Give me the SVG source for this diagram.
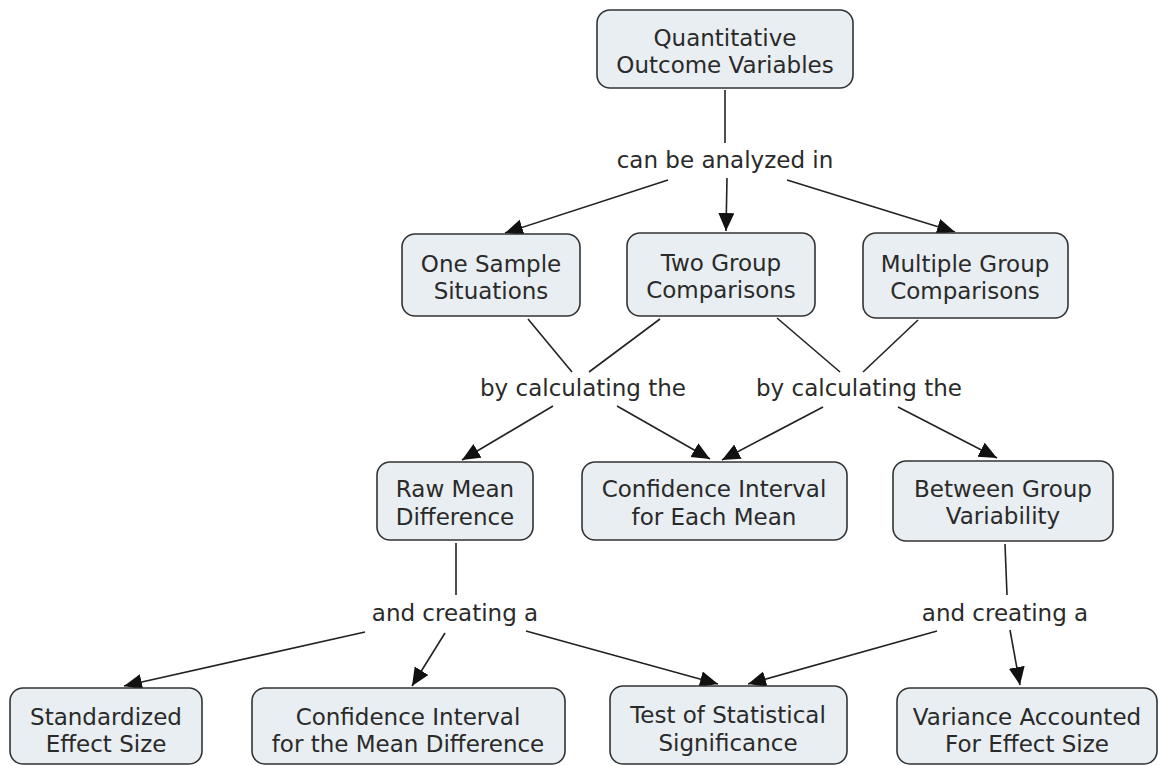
<svg xmlns="http://www.w3.org/2000/svg" width="1161" height="766" viewBox="0 0 1161 766">
<defs>
<marker id="ah" markerUnits="userSpaceOnUse" markerWidth="20" markerHeight="18" refX="18" refY="8" orient="auto">
<path d="M0,0 L18,8 L0,16 Z" fill="#111"/>
</marker>
<style>
.n rect{fill:#e8eef1;stroke:#333;stroke-width:1.6}
text{font-family:"DejaVu Sans",Verdana,sans-serif;font-size:23px;fill:#2a2a2a;text-anchor:middle}
.c line{stroke:#222;stroke-width:1.6}
.c .a{marker-end:url(#ah)}
</style>
</defs>
<rect width="1161" height="766" fill="#fff"/>
<g class="c" id="connectors">
<line x1="725" y1="90" x2="725" y2="143"/>
<line class="a" x1="727" y1="178" x2="726" y2="231"/>
<line class="a" x1="668" y1="180" x2="505" y2="233"/>
<line class="a" x1="787" y1="180" x2="955" y2="232"/>
<line x1="528" y1="319" x2="572" y2="372"/>
<line x1="660" y1="319" x2="589" y2="372"/>
<line class="a" x1="553" y1="406" x2="462" y2="460"/>
<line class="a" x1="617" y1="406" x2="710" y2="459"/>
<line x1="777" y1="318" x2="840" y2="372"/>
<line x1="918" y1="320" x2="863" y2="372"/>
<line class="a" x1="823" y1="407" x2="722" y2="460"/>
<line class="a" x1="898" y1="407" x2="997" y2="458"/>
<line x1="456" y1="543" x2="456" y2="595"/>
<line class="a" x1="365" y1="632" x2="124" y2="686"/>
<line class="a" x1="445" y1="633" x2="412" y2="686"/>
<line class="a" x1="526" y1="631" x2="718" y2="684"/>
<line class="a" x1="937" y1="631" x2="748" y2="684"/>
<line class="a" x1="1010" y1="630" x2="1020" y2="685"/>
<line x1="1005" y1="544" x2="1007" y2="595"/>
<text x="725" y="168">can be analyzed in</text>
<text x="583" y="396">by calculating the</text>
<text x="859" y="396">by calculating the</text>
<text x="455" y="621">and creating a</text>
<text x="1005" y="621">and creating a</text>
</g>
<g class="n" id="n-quant"><rect x="597" y="10" width="256" height="78" rx="13"/><text x="725" y="46">Quantitative</text><text x="725" y="73">Outcome Variables</text></g>
<g class="n" id="n-one"><rect x="402" y="234" width="178" height="82" rx="13"/><text x="491" y="272">One Sample</text><text x="491" y="299">Situations</text></g>
<g class="n" id="n-two"><rect x="627" y="233" width="188" height="83" rx="13"/><text x="721" y="271">Two Group</text><text x="721" y="298">Comparisons</text></g>
<g class="n" id="n-multi"><rect x="863" y="233" width="205" height="85" rx="13"/><text x="965" y="272">Multiple Group</text><text x="965" y="299">Comparisons</text></g>
<g class="n" id="n-raw"><rect x="377" y="462" width="156" height="78" rx="13"/><text x="455" y="497">Raw Mean</text><text x="455" y="525">Difference</text></g>
<g class="n" id="n-ci-each"><rect x="582" y="462" width="265" height="78" rx="13"/><text x="714" y="497">Confidence Interval</text><text x="714" y="525">for Each Mean</text></g>
<g class="n" id="n-between"><rect x="893" y="461" width="220" height="80" rx="13"/><text x="1003" y="497">Between Group</text><text x="1003" y="524">Variability</text></g>
<g class="n" id="n-std"><rect x="10" y="688" width="192" height="76" rx="13"/><text x="106" y="725">Standardized</text><text x="106" y="752">Effect Size</text></g>
<g class="n" id="n-ci-diff"><rect x="252" y="688" width="313" height="76" rx="13"/><text x="408" y="725">Confidence Interval</text><text x="408" y="752">for the Mean Difference</text></g>
<g class="n" id="n-test"><rect x="610" y="686" width="237" height="78" rx="13"/><text x="728" y="723">Test of Statistical</text><text x="728" y="751">Significance</text></g>
<g class="n" id="n-var"><rect x="897" y="688" width="260" height="76" rx="13"/><text x="1027" y="725">Variance Accounted</text><text x="1027" y="752">For Effect Size</text></g>
</svg>
